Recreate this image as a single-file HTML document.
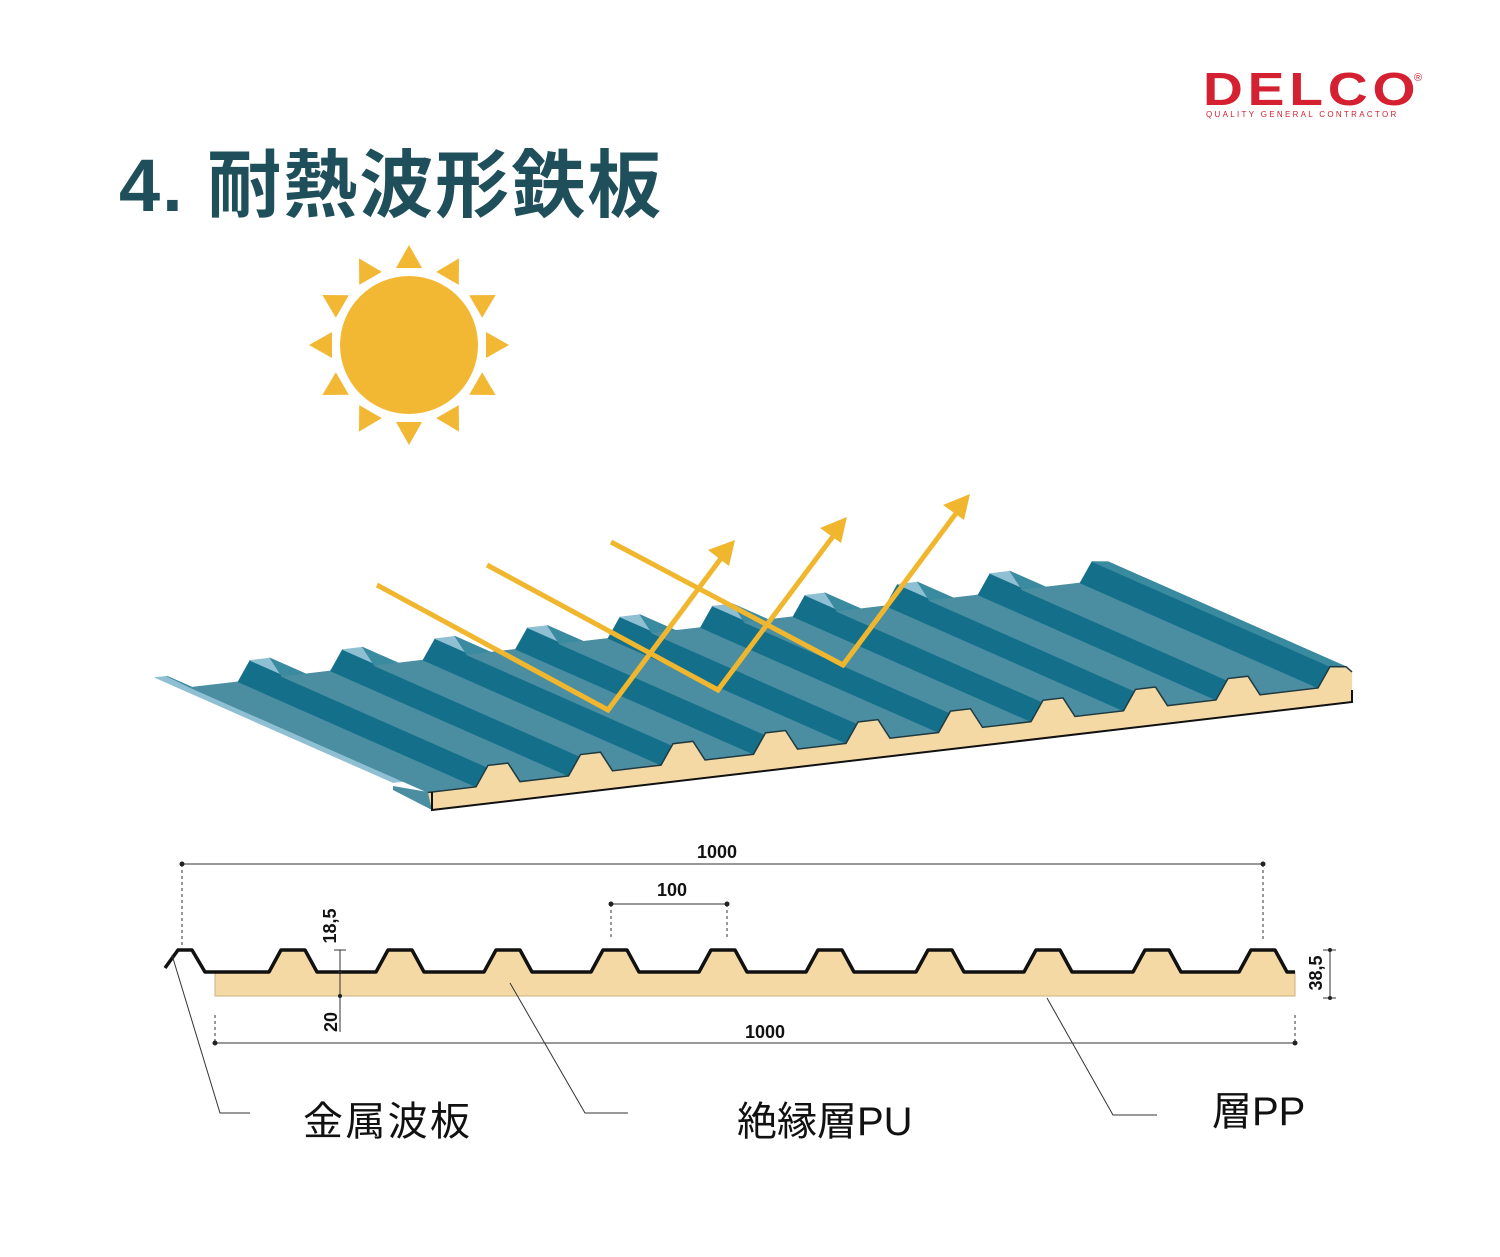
<!DOCTYPE html>
<html><head><meta charset="utf-8"><style>
html,body{margin:0;padding:0;background:#fff;}
#c{position:relative;width:1500px;height:1257px;overflow:hidden;font-family:"Liberation Sans","Noto Sans CJK JP",sans-serif;}
.t{position:absolute;white-space:nowrap;}
</style></head><body><div id="c">
<svg id="s" width="1500" height="1257" viewBox="0 0 1500 1257" style="position:absolute;left:0;top:0">
<g fill="#f2b833" id="sun"><circle cx="409" cy="345" r="69"/></g>
<g id="panel"></g>
<g stroke="#f0b62e" stroke-width="5" fill="none" stroke-linejoin="miter">
<polyline points="377,585 608,710 725,553"/>
<polyline points="487,565 718,690 837,531"/>
<polyline points="611,542 843,665 960,508"/>
</g>
<g fill="#f0b62e">
<polygon points="735,540 708,550 729,566"/>
<polygon points="847,517 820,528 841,543"/>
<polygon points="970,494 943,505 964,520"/>
</g>
<g id="xs"></g>
<g stroke="#333" stroke-width="1" fill="none">
<line x1="182" y1="864" x2="1263" y2="864"/>
<line x1="611" y1="904" x2="727" y2="904"/>
<line x1="215" y1="1043" x2="1295" y2="1043"/>
<line x1="340" y1="950" x2="340" y2="1032"/>
<line x1="334" y1="950" x2="346" y2="950"/>
<line x1="1330" y1="950" x2="1330" y2="998"/>
<line x1="1323" y1="950" x2="1336" y2="950"/>
<line x1="1323" y1="998" x2="1336" y2="998"/>
<g stroke-dasharray="3,3">
<line x1="182" y1="864" x2="182" y2="945"/>
<line x1="1263" y1="864" x2="1263" y2="940"/>
<line x1="611" y1="904" x2="611" y2="940"/>
<line x1="727" y1="904" x2="727" y2="940"/>
<line x1="215" y1="1015" x2="215" y2="1043"/>
<line x1="1295" y1="1015" x2="1295" y2="1043"/>
</g>
<polyline points="172,955 220,1113 250,1113"/>
<polyline points="510,983 585,1113 628,1113"/>
<polyline points="1047,998 1113,1115 1157,1115"/>
</g>
<g fill="#222">
<circle cx="182" cy="864" r="2.5"/><circle cx="1263" cy="864" r="2.5"/>
<circle cx="611" cy="904" r="2.5"/><circle cx="727" cy="904" r="2.5"/>
<circle cx="215" cy="1043" r="2.5"/><circle cx="1295" cy="1043" r="2.5"/>
<circle cx="340" cy="972" r="2"/><circle cx="340" cy="996" r="2"/>
<circle cx="1330" cy="950" r="2"/><circle cx="1330" cy="998" r="2"/>
</g>
<g font-family="Liberation Sans, sans-serif" font-weight="bold" font-size="18" fill="#111">
<text x="717" y="858" text-anchor="middle">1000</text>
<text x="672" y="896" text-anchor="middle">100</text>
<text x="765" y="1038" text-anchor="middle">1000</text>
<text transform="translate(336,926) rotate(-90)" text-anchor="middle">18,5</text>
<text transform="translate(337,1022) rotate(-90)" text-anchor="middle">20</text>
<text transform="translate(1322,973) rotate(-90)" text-anchor="middle">38,5</text>
</g>
<g font-family="Liberation Sans, Noto Sans CJK JP, sans-serif" font-size="40" fill="#111">
<text x="303" y="1135" textLength="167">金属波板</text>
<text x="737" y="1135">絶縁層PU</text>
<text x="1212" y="1125">層PP</text>
</g>
</svg>
<div class="t" style="left:119px;top:126px;font-size:74px;font-weight:bold;color:#1f4f5a;font-family:'Liberation Sans','Noto Sans CJK JP',sans-serif;letter-spacing:2px;">4. 耐熱波形鉄板</div>
<div class="t" style="left:1203px;top:62px;font-size:46px;font-weight:bold;color:#d42030;letter-spacing:4px;transform:scaleX(1.2);transform-origin:left top;">DELCO</div>
<div class="t" style="left:1414px;top:72px;font-size:11px;color:#d42030;">®</div>
<div class="t" style="left:1206px;top:110px;font-size:8px;color:#d42030;letter-spacing:2.3px;">QUALITY GENERAL CONTRACTOR</div>
</div>
<script>
var NS="http://www.w3.org/2000/svg";
function el(p,n,a){var e=document.createElementNS(NS,n);for(var k in a)e.setAttribute(k,a[k]);p.appendChild(e);return e;}
var sun=document.getElementById('sun');
for(var i=0;i<12;i++){var a=i*Math.PI/6-Math.PI/2,c=Math.cos(a),s=Math.sin(a);
var tip=[409+100*c,345+100*s],b=[409+77*c,345+77*s];
el(sun,'polygon',{points:tip.join(',')+' '+(b[0]-13*s)+','+(b[1]+13*c)+' '+(b[0]+13*s)+','+(b[1]-13*c)});}
var P=document.getElementById('panel');
function vy(x){return 792-0.1174*(x-432);}
var pts=[[393,14],[405,14],[428,0]];
var cs=[498,590.5,683,775.5,868,960.5,1053,1145.5,1238];
cs.forEach(function(c){pts.push([c-22,0],[c-10,20],[c+10,20],[c+22,0]);});
pts.push([1318,0],[1330,20],[1346,18],[1352,12]);
var F=pts.map(function(p){return [p[0],vy(p[0])-p[1]];});
var dx=-238,dy=-105;
var foam=[];F.forEach(function(p){if(p[0]>=428)foam.push(p);});
var fb=[[1352,702],[432,810]];
var fp=foam.concat(fb).map(function(p){return p.join(',')}).join(' ');
for(var i=0;i<F.length-1;i++){var A=F[i],B=F[i+1];var hA=pts[i][1],hB=pts[i+1][1];
var col;if(hA==hB){col=hA>=14?'#8fbfd2':'#4b8ea2';}else if(hB>hA){col='#14708a';}else{col='#3a8aa0';}
var q=[A,B,[B[0]+dx,B[1]+dy],[A[0]+dx,A[1]+dy]];
el(P,'polygon',{points:q.map(function(p){return p.join(',')}).join(' '),fill:col,stroke:col,'stroke-width':0.6});}
el(P,'polygon',{points:'432,810 428,792 393,786 393,790',fill:'#4b8ea2'});
el(P,'polygon',{points:fp,fill:'#f5d9a4'});
el(P,'polyline',{points:foam.map(function(p){return p.join(',')}).join(' '),fill:'none',stroke:'#1f3a40','stroke-width':1.5});
el(P,'polyline',{points:'432,792 432,810 1352,702 1352,690',fill:'none',stroke:'#111','stroke-width':2});
var X=document.getElementById('xs');
var xc=[293,400,508,615,723,830,940,1048,1157,1263];
var pr=[[165,968],[178,950],[192,950],[205,972]];
xc.forEach(function(c){pr.push([c-24,972],[c-12,950],[c+12,950],[c+24,972]);});
pr.push([1295,972]);
var fpts=pr.filter(function(p){return p[0]>=205;});
fpts[0]=[215,972];
el(X,'polygon',{points:fpts.map(function(p){return p.join(',')}).join(' ')+' 1295,996 215,996',fill:'#f5d9a4',stroke:'#c9b183','stroke-width':1});
el(X,'polyline',{points:pr.map(function(p){return p.join(',')}).join(' '),fill:'none',stroke:'#111','stroke-width':3.5,'stroke-linejoin':'round'});
</script>
</body></html>
